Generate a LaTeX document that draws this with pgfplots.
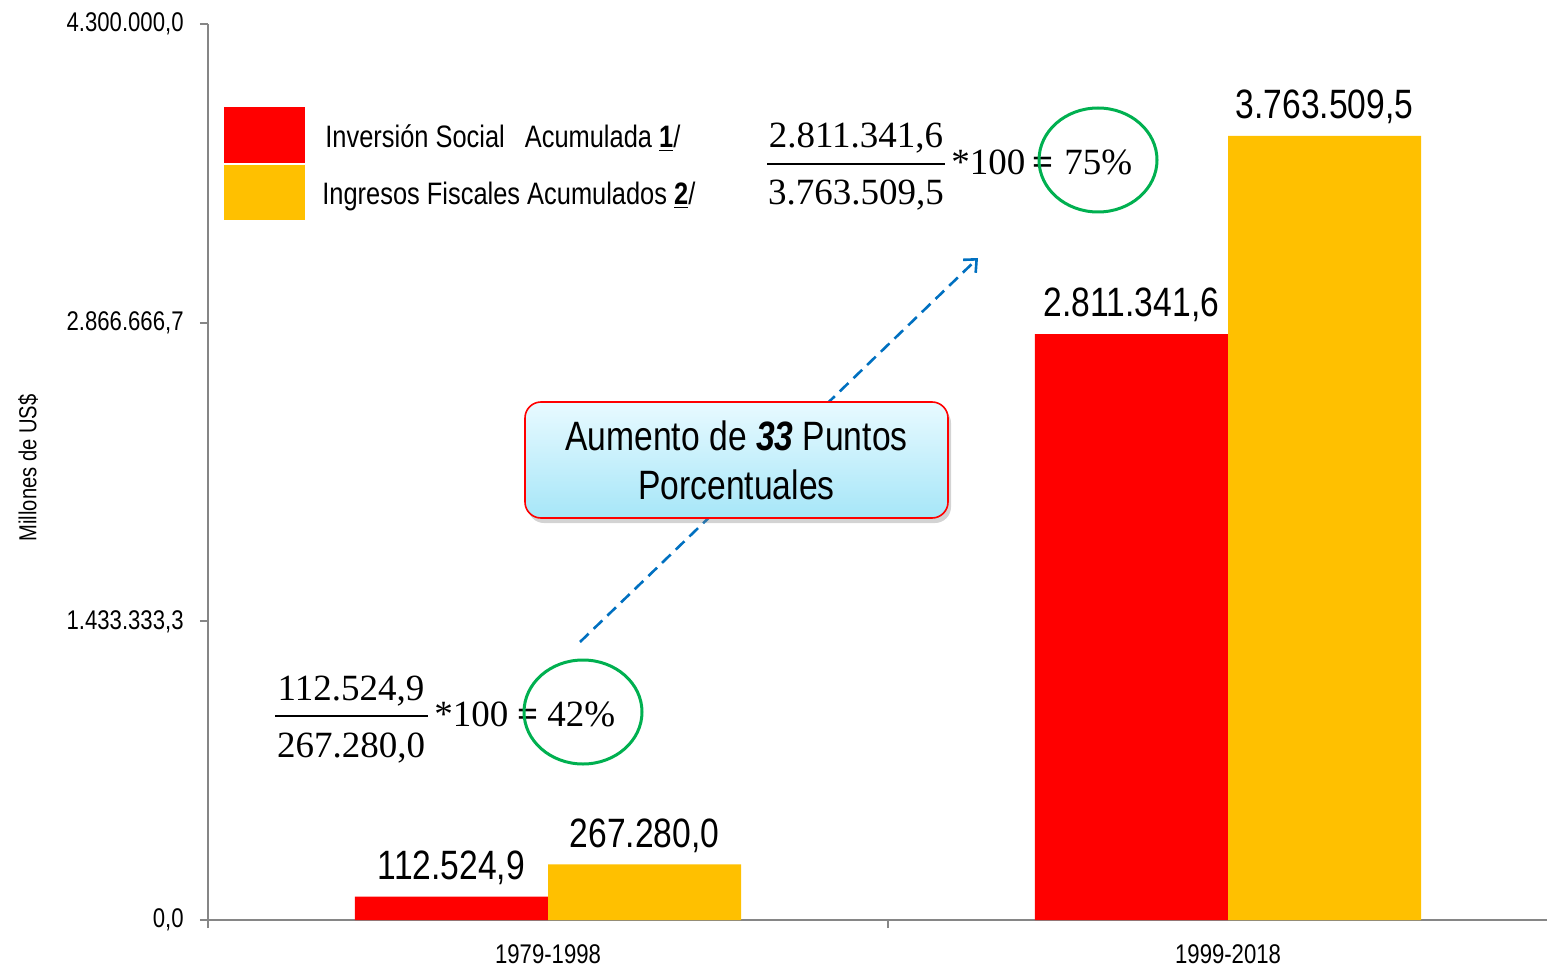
\documentclass[border=0pt]{standalone}
\usepackage{fontspec}
\setmainfont{Liberation Sans}[FakeStretch=0.82]
\newfontfamily\serif{Liberation Serif}
\usepackage{pgfplots}
\pgfplotsset{compat=1.18}
\usepackage{pgfplotstable}
\usetikzlibrary{arrows.meta,shadows}

\definecolor{barred}{HTML}{FF0000}
\definecolor{baryel}{HTML}{FFC000}
\definecolor{axisgray}{HTML}{868686}
\definecolor{ringgreen}{HTML}{00B050}
\definecolor{arrowblue}{HTML}{0070C0}
\definecolor{boxtop}{HTML}{E8FAFF}
\definecolor{boxbot}{HTML}{A6E6F8}

% acumulados, millones de US$
\pgfplotstableread{
x y label
0 112524.9 112.524,9
1 2811341.6 2.811.341,6
}\inversion
\pgfplotstableread{
x y label
0 267280.0 267.280,0
1 3763509.5 3.763.509,5
}\ingresos

\begin{document}
\begin{tikzpicture}
\useasboundingbox (0,0) rectangle (773.5pt,483pt);
\begin{axis}[
  at={(104pt,23pt)}, anchor=south west,
  scale only axis, width=669.5pt, height=448pt,
  xmin=-0.5, xmax=1.469, ymin=0, ymax=4300000,
  axis lines*=left,
  axis line style={draw=axisgray, line width=1pt},
  every tick/.style={draw=axisgray, line width=1pt},
  tick align=outside, major tick length=4pt,
  xtick={-0.5,0.5}, xticklabels={},
  extra x ticks={0,1}, extra x tick labels={1979-1998,1999-2018},
  extra x tick style={major tick length=0pt},
  ytick={0,1433333.3,2866666.7,4300000},
  yticklabels={{0,0},{1.433.333,3},{2.866.666,7},{4.300.000,0}},
  ticklabel style={font=\fontsize{13.5}{16}\selectfont, text=black, inner sep=1pt},
  yticklabel style={xshift=-7pt},
  xticklabel style={yshift=-11pt},
  ybar=0pt, bar width=0.284,
  nodes near coords, point meta=explicit symbolic,
  every node near coord/.append style={font=\fontsize{20.5}{24}\selectfont, text=black, yshift=2.5pt},
  clip=false,
]
\addplot[fill=barred, draw=none] table[x=x, y=y, meta=label] {\inversion};
\addplot[fill=baryel, draw=none] table[x=x, y=y, meta=label] {\ingresos};
\end{axis}

\begin{scope}[x=0.5pt, y=-0.5pt, yshift=483pt]
  % y label
  \node[rotate=90, font=\fontsize{12.3}{15}\selectfont] at (28,468) {Millones de US\$};
  % legend
  \fill[barred] (224,107) rectangle (305,163);
  \fill[baryel] (224,165) rectangle (305,220);
  \node[anchor=base west, inner sep=0pt, font=\fontsize{15.5}{18}\selectfont] at (325,148)
    {Inversión Social\hspace{6.5pt} Acumulada \textbf{\underline{1}}/};
  \node[anchor=base west, inner sep=0pt, font=\fontsize{15.5}{18}\selectfont] at (322,205)
    {Ingresos Fiscales Acumulados \textbf{\underline{2}}/};
  % dashed arrow behind the box
  \draw[arrowblue, line width=1.3pt, dash pattern=on 6pt off 3.5pt,
        -{Straight Barb[length=5pt,width=9pt]}] (580,642) -- (978,258);
  \node[draw=red, line width=0.8pt, rounded corners=8pt,
        top color=boxtop, bottom color=boxbot,
        drop shadow={shadow xshift=1.5pt, shadow yshift=-2.5pt, opacity=0.35},
        minimum width=211.5pt, minimum height=58pt, inner sep=0pt,
        align=center, font=\fontsize{20.5}{24.5}\selectfont] at (736.5,460)
    {Aumento de \textbf{\textit{33}} Puntos\\Porcentuales};
  % lower fraction
  \begin{scope}[font=\serif\fontsize{18.5}{22}\selectfont]
    \node[anchor=base, inner sep=0pt] at (351,700) {112.524,9};
    \draw[line width=0.7pt] (275,716) -- (428,716);
    \node[anchor=base, inner sep=0pt] at (351,757) {267.280,0};
    \node[anchor=base west, inner sep=0pt] at (434,726) {*100};
    \node[anchor=base, inner sep=0pt] at (528,726) {\textbf{=}};
    \node[anchor=base west, inner sep=0pt] at (547,726) {42\%};
    % upper fraction
    \node[anchor=base, inner sep=0pt] at (856,148) {2.811.341,6};
    \draw[line width=0.7pt] (767,164) -- (945,164);
    \node[anchor=base, inner sep=0pt] at (856,205) {3.763.509,5};
    \node[anchor=base west, inner sep=0pt] at (951,175) {*100};
    \node[anchor=base, inner sep=0pt] at (1043,175) {\textbf{=}};
    \node[anchor=base west, inner sep=0pt] at (1064,175) {75\%};
  \end{scope}
  % rings
  \draw[ringgreen, line width=1.5pt] (583,712) ellipse [x radius=59, y radius=52];
  \draw[ringgreen, line width=1.5pt] (1098,160) ellipse [x radius=59, y radius=52];
\end{scope}
\end{tikzpicture}
\end{document}
